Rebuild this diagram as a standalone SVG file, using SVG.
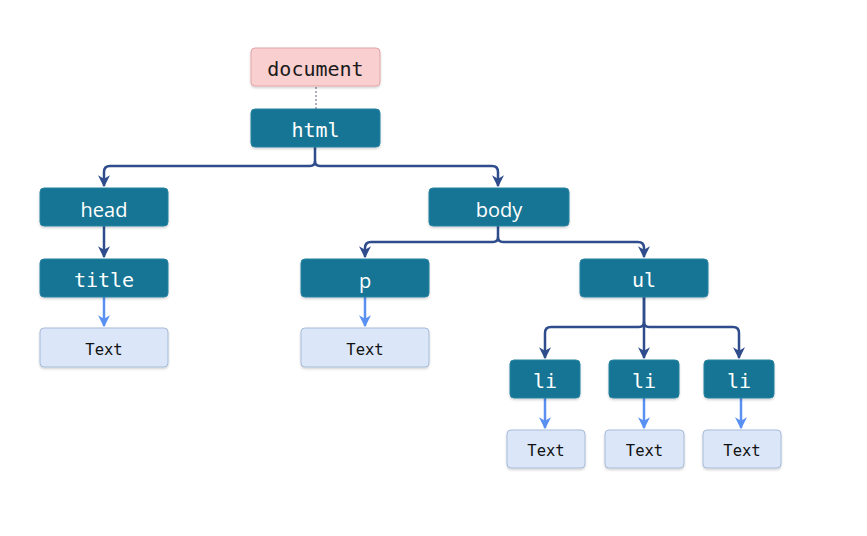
<svg xmlns="http://www.w3.org/2000/svg" width="867" height="536" viewBox="0 0 867 536">
  <defs>
    <marker id="arrDark" viewBox="0 0 10 10" refX="9" refY="5" markerWidth="4.8" markerHeight="4.8" orient="auto">
      <path d="M0,0 L10,5 L0,10 L3,5 z" fill="#2f4c8c"/>
    </marker>
    <marker id="arrLight" viewBox="0 0 10 10" refX="9" refY="5" markerWidth="4.8" markerHeight="4.8" orient="auto">
      <path d="M0,0 L10,5 L0,10 L3,5 z" fill="#5990f2"/>
    </marker>
    <filter id="shadow" x="-10%" y="-20%" width="120%" height="150%">
      <feDropShadow dx="0" dy="1.5" stdDeviation="1.2" flood-color="#000" flood-opacity="0.18"/>
    </filter>
  </defs>
  <style>
    .el { fill: #137494; stroke: #2a84a2; stroke-width: 1; filter: url(#shadow); }
    .txt { fill: #dbe7f8; stroke: #a7bbd9; stroke-width: 1; filter: url(#shadow); }
    .doc { fill: #f9cfd0; stroke: #e2a5a7; stroke-width: 1; filter: url(#shadow); }
    .mono { font-family: "DejaVu Sans Mono", "Liberation Mono", monospace; }
    .sans { font-family: "Open Sans", "Liberation Sans", sans-serif; }
    .lab { fill: #ffffff; font-size: 20px; text-anchor: middle; dominant-baseline: central; }
    .tlab { fill: #111111; font-size: 15.5px; text-anchor: middle; dominant-baseline: central; }
    .dlab { fill: #1a1a1a; font-size: 20px; text-anchor: middle; dominant-baseline: central; }
    .dark { fill: none; stroke: #2f4c8c; stroke-width: 2.5; }
    .light { fill: none; stroke: #5990f2; stroke-width: 2.5; }
  </style>
  <rect width="867" height="536" fill="#ffffff"/>

  <g id="connectors">
    <line x1="316" y1="87" x2="316" y2="109" stroke="#7a7a8a" stroke-width="1.2" stroke-dasharray="2,2"/>
    <!-- html to head / body -->
    <path class="dark" d="M315,147 V161 Q315,166 310,166 H110 Q104,166 104,172 V186" marker-end="url(#arrDark)"/>
    <path class="dark" d="M315,161 Q315,166 320,166 H492 Q498,166 498,172 V186" marker-end="url(#arrDark)"/>
    <!-- head to title -->
    <path class="dark" d="M104,226 V257" marker-end="url(#arrDark)"/>
    <!-- body to p / ul -->
    <path class="dark" d="M498,226 V237 Q498,242 493,242 H371 Q365,242 365,248 V257" marker-end="url(#arrDark)"/>
    <path class="dark" d="M498,237 Q498,242 503,242 H638 Q644,242 644,248 V257" marker-end="url(#arrDark)"/>
    <!-- ul to li -->
    <path class="dark" d="M644,297 V322 Q644,327 639,327 H551 Q545,327 545,333 V358" marker-end="url(#arrDark)"/>
    <path class="dark" d="M644,297 V358" marker-end="url(#arrDark)"/>
    <path class="dark" d="M644,322 Q644,327 649,327 H733 Q739,327 739,333 V358" marker-end="url(#arrDark)"/>
    <!-- element to text -->
    <path class="light" d="M104,297 V326" marker-end="url(#arrLight)"/>
    <path class="light" d="M365,297 V326" marker-end="url(#arrLight)"/>
    <path class="light" d="M545,398 V428" marker-end="url(#arrLight)"/>
    <path class="light" d="M644,398 V428" marker-end="url(#arrLight)"/>
    <path class="light" d="M741,398 V428" marker-end="url(#arrLight)"/>
  </g>

  <g id="document">
    <rect class="doc" x="251" y="48" width="129" height="38" rx="4"/>
    <text class="dlab mono" x="315.5" y="69">document</text>
  </g>
  <g id="html">
    <rect class="el" x="251" y="109" width="129" height="38" rx="4"/>
    <text class="lab mono" x="315.5" y="129.5">html</text>
  </g>
  <g id="head">
    <rect class="el" x="40" y="188" width="128" height="38" rx="4"/>
    <text class="lab sans" x="104" y="209">head</text>
  </g>
  <g id="body">
    <rect class="el" x="429" y="188" width="140" height="38" rx="4"/>
    <text class="lab sans" x="499" y="209">body</text>
  </g>
  <g id="title">
    <rect class="el" x="40" y="259" width="128" height="38" rx="4"/>
    <text class="lab mono" x="104" y="279.5">title</text>
  </g>
  <g id="p">
    <rect class="el" x="301" y="259" width="128" height="38" rx="4"/>
    <text class="lab sans" x="365" y="280">p</text>
  </g>
  <g id="ul">
    <rect class="el" x="580" y="259" width="128" height="38" rx="4"/>
    <text class="lab mono" x="644" y="279.5">ul</text>
  </g>
  <g id="title-text">
    <rect class="txt" x="40" y="328" width="128" height="39" rx="4"/>
    <text class="tlab mono" x="104" y="349.5">Text</text>
  </g>
  <g id="p-text">
    <rect class="txt" x="301" y="328" width="128" height="39" rx="4"/>
    <text class="tlab mono" x="365" y="349.5">Text</text>
  </g>
  <g id="li1">
    <rect class="el" x="510" y="360" width="70" height="38" rx="4"/>
    <text class="lab mono" x="545" y="380.5">li</text>
  </g>
  <g id="li2">
    <rect class="el" x="609" y="360" width="70" height="38" rx="4"/>
    <text class="lab mono" x="644" y="380.5">li</text>
  </g>
  <g id="li3">
    <rect class="el" x="704" y="360" width="70" height="38" rx="4"/>
    <text class="lab mono" x="739" y="380.5">li</text>
  </g>
  <g id="li1-text">
    <rect class="txt" x="507" y="430" width="78" height="38" rx="4"/>
    <text class="tlab mono" x="546" y="451">Text</text>
  </g>
  <g id="li2-text">
    <rect class="txt" x="605" y="430" width="79" height="38" rx="4"/>
    <text class="tlab mono" x="644.5" y="451">Text</text>
  </g>
  <g id="li3-text">
    <rect class="txt" x="703" y="430" width="78" height="38" rx="4"/>
    <text class="tlab mono" x="742" y="451">Text</text>
  </g>
</svg>
